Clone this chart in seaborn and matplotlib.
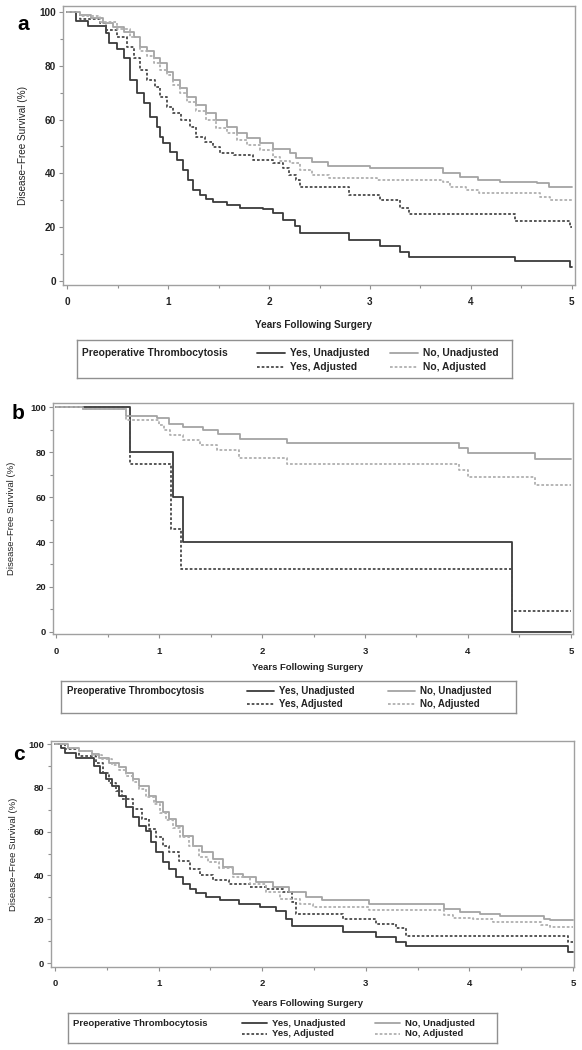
import numpy as np
import pandas as pd
import matplotlib
matplotlib.use("Agg")
import matplotlib.pyplot as plt
from matplotlib.ticker import MultipleLocator
import seaborn as sns

# Kaplan-Meier style step data (years, % disease-free)
# Panel a
a_yes_unadj_t = [0, 0.09, 0.21, 0.39, 0.42, 0.49, 0.56, 0.62, 0.69, 0.76, 0.82, 0.89, 0.92, 0.95, 1.02, 1.09,
                 1.15, 1.20, 1.25, 1.32, 1.38, 1.45, 1.58, 1.71, 1.94, 2.04, 2.14, 2.26, 2.31, 2.79, 3.10, 3.30,
                 3.39, 4.44, 4.98, 5.0]
a_yes_unadj_s = [100, 96.8, 94.8, 92.0, 88.3, 86.1, 82.8, 74.7, 69.8, 66.0, 61.0, 57.4, 53.6, 51.2, 48.0, 45.0,
                 41.3, 37.5, 33.8, 32.0, 30.5, 29.3, 28.3, 27.0, 26.6, 25.2, 22.7, 20.5, 17.8, 15.2, 13.1, 10.9,
                 9.0, 7.4, 5.3, 5.3]
a_yes_adj_t = [0, 0.13, 0.33, 0.39, 0.49, 0.59, 0.66, 0.72, 0.79, 0.87, 0.92, 0.99, 1.05, 1.13, 1.22, 1.28,
               1.37, 1.45, 1.51, 1.65, 1.84, 2.04, 2.14, 2.20, 2.27, 2.31, 2.79, 3.10, 3.30, 3.39, 4.44, 4.98, 5.0]
a_yes_adj_s = [100, 97.3, 95.8, 93.3, 90.8, 87.1, 82.8, 78.4, 74.7, 72.2, 68.5, 64.8, 62.3, 59.8, 57.4, 53.6,
               51.8, 49.9, 47.5, 46.8, 45.0, 43.8, 41.9, 39.4, 37.5, 35.1, 32.0, 30.1, 27.0, 24.8, 22.3, 20.2, 20.2]
a_no_unadj_t = [0, 0.13, 0.24, 0.36, 0.46, 0.56, 0.66, 0.72, 0.79, 0.86, 0.92, 0.99, 1.05, 1.12, 1.19, 1.28,
                1.38, 1.48, 1.58, 1.68, 1.78, 1.91, 2.04, 2.21, 2.27, 2.43, 2.58, 3.0, 3.72, 3.89, 4.07, 4.29,
                4.65, 4.77, 5.0]
a_no_unadj_s = [100, 98.9, 97.6, 96.0, 94.5, 92.7, 90.8, 87.1, 85.3, 82.8, 81.0, 77.8, 74.7, 71.6, 68.5, 65.4,
                62.3, 59.8, 57.4, 54.9, 53.1, 51.2, 49.0, 47.5, 45.6, 44.1, 42.9, 41.9, 40.3, 38.8, 37.5, 36.9,
                36.3, 34.8, 34.8]
a_no_adj_t = [0, 0.13, 0.33, 0.49, 0.62, 0.72, 0.79, 0.86, 0.92, 0.99, 1.05, 1.12, 1.19, 1.28, 1.38, 1.48,
              1.58, 1.68, 1.78, 1.91, 2.04, 2.11, 2.21, 2.31, 2.43, 2.59, 3.07, 3.72, 3.79, 3.95, 4.08, 4.25,
              4.68, 4.78, 5.0]
a_no_adj_s = [100, 98.5, 96.2, 93.7, 90.8, 85.5, 83.5, 81.0, 78.5, 76.5, 73.0, 70.0, 66.5, 63.0, 60.0, 57.0,
              55.0, 52.5, 50.5, 48.5, 46.0, 44.5, 43.7, 41.3, 39.4, 38.2, 37.5, 36.9, 35.1, 33.8, 32.8, 32.6,
              31.3, 30.1, 30.1]

# Panel b
b_yes_unadj_t = [0, 0.72, 1.14, 1.23, 4.43, 5.0]
b_yes_unadj_s = [100, 80, 60, 40, 0, 0]
b_yes_adj_t = [0, 0.72, 1.12, 1.21, 4.43, 5.0]
b_yes_adj_s = [100, 74.5, 45.6, 28, 9.5, 9.5]
b_no_unadj_t = [0, 0.26, 0.68, 0.98, 1.10, 1.23, 1.43, 1.57, 1.79, 2.24, 3.91, 4.0, 4.65, 5.0]
b_no_unadj_s = [100, 99, 96, 95, 92.3, 91, 89.8, 88, 85.6, 84, 82, 79.4, 76.8, 76.8]
b_no_adj_t = [0, 0.26, 0.68, 1.0, 1.05, 1.11, 1.23, 1.40, 1.56, 1.78, 2.24, 3.91, 4.0, 4.65, 5.0]
b_no_adj_s = [100, 99, 94.2, 92, 89.8, 87.6, 85.3, 83.1, 80.9, 77.2, 74.5, 72, 69, 65.3, 65.3]

# Panel c
c_yes_unadj_t = [0, 0.055, 0.10, 0.20, 0.38, 0.43, 0.49, 0.55, 0.62, 0.68, 0.75, 0.81, 0.88, 0.93, 0.97, 1.04,
                 1.10, 1.17, 1.23, 1.30, 1.36, 1.46, 1.59, 1.78, 1.98, 2.13, 2.23, 2.29, 2.78, 3.10, 3.29, 3.39,
                 4.95, 5.0]
c_yes_unadj_s = [100, 98.4, 96.1, 93.8, 90.0, 87.0, 84.0, 80.9, 76.4, 71.1, 66.5, 62.7, 60.5, 55.2, 50.6, 46.1,
                 43.0, 39.3, 36.2, 34.0, 32.1, 30.2, 28.6, 27.1, 25.6, 23.6, 20.3, 16.8, 14.3, 12.0, 9.7, 7.7,
                 5.2, 5.2]
c_yes_adj_t = [0, 0.10, 0.23, 0.39, 0.46, 0.52, 0.59, 0.65, 0.75, 0.84, 0.91, 0.97, 1.04, 1.10, 1.20, 1.30,
               1.40, 1.52, 1.68, 1.88, 2.04, 2.20, 2.29, 2.33, 2.78, 3.10, 3.29, 3.39, 4.95, 5.0]
c_yes_adj_s = [100, 97.6, 94.5, 91.5, 87.0, 82.4, 78.6, 74.9, 70.3, 65.8, 61.2, 57.5, 53.6, 50.6, 46.8, 43.0,
               40.0, 37.7, 36.2, 34.7, 34.0, 32.4, 27.9, 22.6, 20.0, 18.0, 15.8, 12.3, 9.7, 9.7]
c_no_unadj_t = [0, 0.12, 0.23, 0.36, 0.42, 0.52, 0.62, 0.68, 0.75, 0.81, 0.91, 0.97, 1.04, 1.10, 1.17, 1.23,
                1.33, 1.42, 1.52, 1.62, 1.72, 1.81, 1.94, 2.10, 2.26, 2.42, 2.58, 3.03, 3.75, 3.91, 4.10, 4.30,
                4.72, 4.78, 5.0]
c_no_unadj_s = [100, 98.4, 96.8, 95.3, 93.8, 91.5, 89.3, 87.0, 84.0, 80.9, 76.4, 73.4, 68.8, 65.8, 62.7, 58.2,
                53.6, 50.6, 47.6, 43.8, 40.8, 39.3, 37.0, 34.7, 32.5, 30.2, 29.0, 27.1, 24.5, 23.3, 22.6, 21.5,
                20.3, 19.6, 19.6]
c_no_adj_t = [0, 0.12, 0.23, 0.36, 0.45, 0.55, 0.62, 0.68, 0.75, 0.81, 0.88, 0.95, 1.01, 1.07, 1.14, 1.21,
              1.29, 1.39, 1.48, 1.58, 1.72, 1.88, 2.04, 2.17, 2.36, 2.49, 3.03, 3.75, 3.84, 4.03, 4.23, 4.69,
              4.78, 5.0]
c_no_adj_s = [100, 98.4, 96.8, 95.0, 93.0, 90.5, 88.0, 85.5, 82.5, 79.5, 76.0, 72.5, 68.5, 65.2, 61.5, 57.5,
              53.5, 48.3, 46.0, 43.5, 39.3, 36.0, 32.4, 29.4, 27.1, 25.6, 24.1, 21.8, 20.6, 20.0, 18.8, 17.6,
              16.5, 16.5]

group_names = ["Yes, Unadjusted", "Yes, Adjusted", "No, Unadjusted", "No, Adjusted"]
legend_title = "Preoperative Thrombocytosis"
x_ticks = [0, 1, 2, 3, 4, 5]
y_ticks = [0, 20, 40, 60, 80, 100]
panel_letters = ["a", "b", "c"]

# styles per group: colour, dash pattern, width
styles = {
    "Yes, Unadjusted": dict(color="#3a3a3a", ls="-", lw=1.3),
    "Yes, Adjusted": dict(color="#4a4a4a", ls=(0, (1.5, 1.1)), lw=1.3),
    "No, Unadjusted": dict(color="#a4a4a4", ls="-", lw=1.3),
    "No, Adjusted": dict(color="#b0b0b0", ls=(0, (1.5, 1.1)), lw=1.3),
}

sns.set_theme(style="white")
plt.rcParams['font.family'] = ['Liberation Sans', 'DejaVu Sans']

W, H = 582, 1050
fig = plt.figure(figsize=(W / 100, H / 100), dpi=100)


def box(l, t, r, b):
    return [l / W, 1 - b / H, (r - l) / W, (b - t) / H]


panels = [
    dict(letter="a", rect=(63, 6, 575, 285), xlim=(-0.04, 5.03), ylim=(-1.5, 102.2),
         series=[(a_yes_unadj_t, a_yes_unadj_s), (a_yes_adj_t, a_yes_adj_s),
                 (a_no_unadj_t, a_no_unadj_s), (a_no_adj_t, a_no_adj_s)],
         letter_xy=(17, 30), ylab_x=-0.068, xlab_y=-0.125, fs=7.2,
         legend=dict(rect=(77, 340, 512, 378), title_x=5, yes_x=180, no_x=313, hl=28, rows=(13, 27), fs=7.4)),
    dict(letter="b", rect=(53, 403, 573, 634), xlim=(-0.03, 5.02), ylim=(-0.9, 101.8),
         series=[(b_yes_unadj_t, b_yes_unadj_s), (b_yes_adj_t, b_yes_adj_s),
                 (b_no_unadj_t, b_no_unadj_s), (b_no_adj_t, b_no_adj_s)],
         letter_xy=(12, 419), ylab_x=-0.072, xlab_y=-0.125, fs=6.8,
         legend=dict(rect=(61, 681, 516, 713), title_x=6, yes_x=186, no_x=327, hl=27, rows=(10, 23), fs=7.0)),
    dict(letter="c", rect=(51, 741, 574, 967), xlim=(-0.04, 5.01), ylim=(-1.8, 101.4),
         series=[(c_yes_unadj_t, c_yes_unadj_s), (c_yes_adj_t, c_yes_adj_s),
                 (c_no_unadj_t, c_no_unadj_s), (c_no_adj_t, c_no_adj_s)],
         letter_xy=(13, 760), ylab_x=-0.063, xlab_y=-0.14, fs=6.8,
         legend=dict(rect=(68, 1013, 497, 1043), title_x=5, yes_x=174, no_x=307, hl=25, rows=(10, 21), fs=6.8)),
]

spine_col = "#a0a0a0"
text_col = "#222222"

for p in panels:
    ax = fig.add_axes(box(*p["rect"]))
    # draw the four survival curves
    for name, (t, s) in zip(group_names, p["series"]):
        df = pd.DataFrame({"years": t, "survival": s})
        st = styles[name]
        sns.lineplot(data=df, x="years", y="survival", ax=ax, estimator=None,
                     drawstyle="steps-post", color=st["color"], linestyle=st["ls"],
                     linewidth=st["lw"], legend=False)
    ax.set_xlim(*p["xlim"])
    ax.set_ylim(*p["ylim"])
    ax.set_xticks(x_ticks)
    ax.set_yticks(y_ticks)
    ax.xaxis.set_minor_locator(MultipleLocator(0.5))
    ax.yaxis.set_minor_locator(MultipleLocator(10))
    ax.tick_params(which="both", direction="out", color="#909090", width=0.8,
                   labelsize=p["fs"], labelcolor=text_col)
    ax.tick_params(which="major", length=3, pad=6)
    ax.tick_params(axis="y", which="major", pad=2)
    ax.tick_params(which="minor", length=2)
    ax.tick_params(bottom=True, left=True, which="both")
    for lab in ax.get_xticklabels() + ax.get_yticklabels():
        lab.set_fontweight("bold")
    for sp in ax.spines.values():
        sp.set_color(spine_col)
        sp.set_linewidth(1.0)
    ax.set_xlabel("Years Following Surgery", fontsize=p["fs"], fontweight="bold", color=text_col)
    ax.set_ylabel("Disease\u2212Free Survival (%)", fontsize=p["fs"], color=text_col)
    ax.xaxis.set_label_coords(0.49, p["xlab_y"])
    ax.yaxis.set_label_coords(p["ylab_x"], 0.5)
    fig.text(p["letter_xy"][0] / W, 1 - p["letter_xy"][1] / H, p["letter"], fontsize=15,
             fontweight="bold", color="black", ha="left", va="baseline")

    # boxed legend below the panel
    lg = p["legend"]
    l, t, r, b = lg["rect"]
    lax = fig.add_axes(box(l, t, r, b))
    lax.set_xlim(0, r - l)
    lax.set_ylim(b - t, 0)
    lax.set_xticks([])
    lax.set_yticks([])
    for sp in lax.spines.values():
        sp.set_color("#909090")
        sp.set_linewidth(1.0)
    lax.text(lg["title_x"], lg["rows"][0], legend_title, fontsize=lg["fs"], fontweight="bold",
             color=text_col, va="center", ha="left")
    cols = [lg["yes_x"], lg["yes_x"], lg["no_x"], lg["no_x"]]
    rows = [lg["rows"][0], lg["rows"][1], lg["rows"][0], lg["rows"][1]]
    for name, cx, cy in zip(group_names, cols, rows):
        st = styles[name]
        lax.plot([cx, cx + lg["hl"]], [cy, cy], color=st["color"], linestyle=st["ls"], linewidth=st["lw"])
        lax.text(cx + lg["hl"] + 5, cy, name, fontsize=lg["fs"], fontweight="bold",
                 color=text_col, va="center", ha="left")

fig.savefig("out.png", dpi=100)
